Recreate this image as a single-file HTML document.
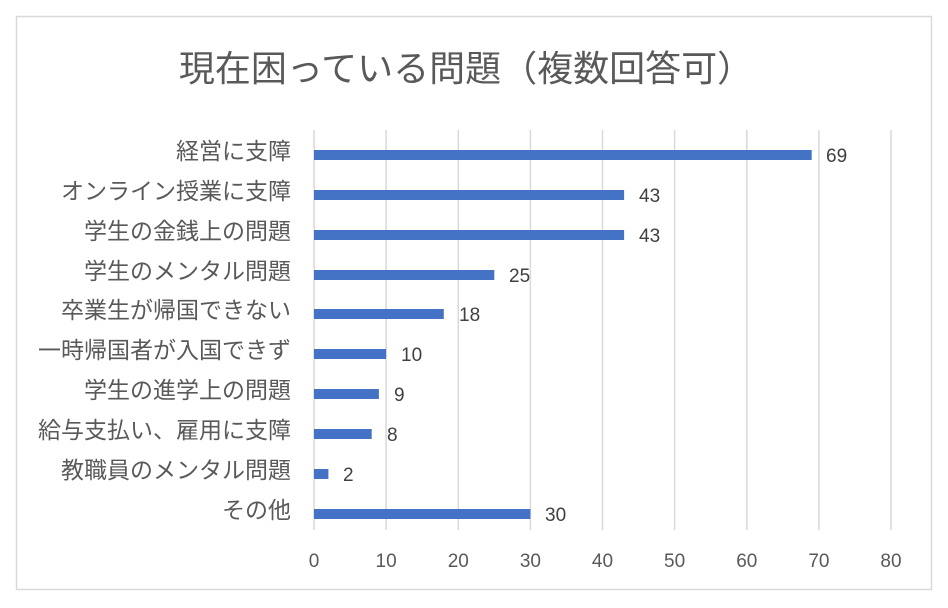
<!DOCTYPE html>
<html><head><meta charset="utf-8"><style>
html,body{margin:0;padding:0;background:#fff;}
svg{display:block;}
text{font-family:"Liberation Sans","Noto Sans CJK JP",sans-serif;}
</style></head><body>
<svg width="948" height="608" viewBox="0 0 948 608" xmlns="http://www.w3.org/2000/svg">
<rect x="0" y="0" width="948" height="608" fill="#fff"/>
<rect x="16.5" y="16.5" width="915" height="573" fill="#fff" stroke="#d9d9d9" stroke-width="1.5"/>
<text x="466" y="81" text-anchor="middle" font-size="36" fill="#595959">現在困っている問題（複数回答可）</text>
<g stroke="#d9d9d9" stroke-width="1.5">
<line x1="314" y1="130" x2="314" y2="530"/>
<line x1="386.1" y1="130" x2="386.1" y2="530"/>
<line x1="458.3" y1="130" x2="458.3" y2="530"/>
<line x1="530.4" y1="130" x2="530.4" y2="530"/>
<line x1="602.5" y1="130" x2="602.5" y2="530"/>
<line x1="674.6" y1="130" x2="674.6" y2="530"/>
<line x1="746.8" y1="130" x2="746.8" y2="530"/>
<line x1="818.9" y1="130" x2="818.9" y2="530"/>
<line x1="891" y1="130" x2="891" y2="530"/>
</g>
<g fill="#4472c4">
<rect x="314" y="150" width="497.7" height="10"/>
<rect x="314" y="190" width="310.1" height="10"/>
<rect x="314" y="230" width="310.1" height="10"/>
<rect x="314" y="270" width="180.3" height="10"/>
<rect x="314" y="309" width="129.8" height="10"/>
<rect x="314" y="349" width="72.1" height="10"/>
<rect x="314" y="389" width="64.9" height="10"/>
<rect x="314" y="429" width="57.7" height="10"/>
<rect x="314" y="469" width="14.4" height="10"/>
<rect x="314" y="509" width="216.4" height="10"/>
</g>
<g font-size="19" fill="#404040">
<text x="826" y="162">69</text>
<text x="639" y="202">43</text>
<text x="639" y="242">43</text>
<text x="509" y="282">25</text>
<text x="459" y="321">18</text>
<text x="401" y="361">10</text>
<text x="394" y="401">9</text>
<text x="387" y="441">8</text>
<text x="343" y="481">2</text>
<text x="545" y="521">30</text>
</g>
<g font-size="23" fill="#595959" text-anchor="end">
<text x="291" y="159">経営に支障</text>
<text x="291" y="199">オンライン授業に支障</text>
<text x="291" y="239">学生の金銭上の問題</text>
<text x="291" y="279">学生のメンタル問題</text>
<text x="291" y="318">卒業生が帰国できない</text>
<text x="291" y="358">一時帰国者が入国できず</text>
<text x="291" y="398">学生の進学上の問題</text>
<text x="291" y="438">給与支払い、雇用に支障</text>
<text x="291" y="478">教職員のメンタル問題</text>
<text x="291" y="518">その他</text>
</g>
<g font-size="19" fill="#595959" text-anchor="middle">
<text x="314" y="567">0</text>
<text x="386.1" y="567">10</text>
<text x="458.3" y="567">20</text>
<text x="530.4" y="567">30</text>
<text x="602.5" y="567">40</text>
<text x="674.6" y="567">50</text>
<text x="746.8" y="567">60</text>
<text x="818.9" y="567">70</text>
<text x="891" y="567">80</text>
</g>
</svg>
</body></html>
